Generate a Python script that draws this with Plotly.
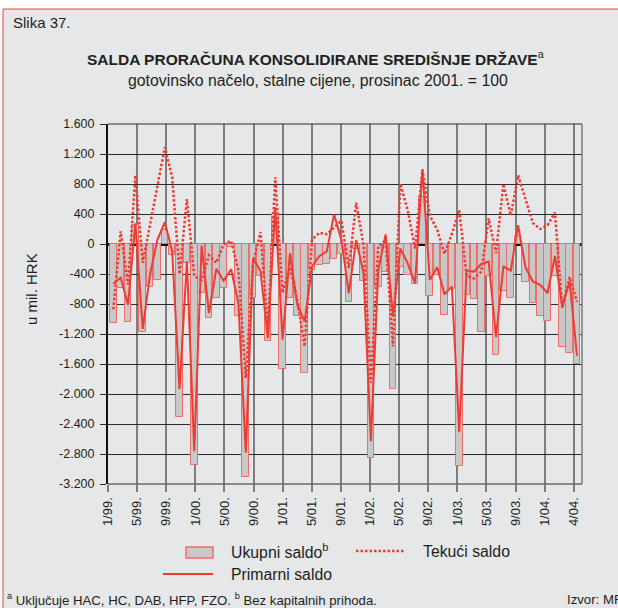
import plotly.graph_objects as go

# Monthly data, 1/99 - 4/04 (mil. HRK, constant prices, Dec 2001 = 100)
months = [f"{m}/{y}" for y in ("99", "00", "01", "02", "03", "04") for m in range(1, 13)][:64]

ukupni_saldo = [
    -1050, -580, -1035, 260, -1175, -577, -485, 190, -153, -2300,
    -250, -2945, -656, -985, -723, -590, -40, -958, -3105, -723,
    -426, -1290, 400, -1668, -723, -962, -1725, -340, -285, -262,
    -200, -138, -770, -60, -495, -2852, -577, -368, -1930, -300,
    -418, -533, 625, -690, -418, -945, -600, -2963, -680, -732,
    -1177, -430, -1477, -625, -723, 110, -500, -789, -965, -1020,
    -420, -1377, -1458, -1601,
]

tekuci_saldo = [
    -870, 170, -540, 915, -250, 280, 800, 1290, 890, -400,
    600, -430, -480, -150, -250, 0, 40, -350, -1787, -250,
    160, -1150, 890, -650, -310, -750, -1366, 60, 150, 130,
    220, 310, -320, 550, -20, -1850, -30, 50, -1366, 807,
    450, -60, 993, 380, 190, -130, 133, 455, -420, -460,
    -370, 340, -120, 800, 380, 915, 600, 280, 200, 250,
    420, -850, -440, -770,
]

primarni_saldo = [
    -530, -450, -810, 275, -1131, -400, 60, 290, -100, -1934,
    -230, -2763, -20, -922, -330, -490, -337, -790, -2780, -190,
    -360, -1255, 490, -1277, -124, -812, -1033, -300, -160, -100,
    395, 50, -656, 53, -390, -2630, -346, 129, -967, -58,
    -257, -523, 993, -479, -310, -670, -568, -2510, -355, -368,
    -266, -235, -1242, -302, -355, 250, -310, -501, -545, -656,
    -160, -834, -500, -1490,
]

x_tick_labels = ["1/99.", "5/99.", "9/99.", "1/00.", "5/00.", "9/00.", "1/01.", "5/01.",
                 "9/01.", "1/02.", "5/02.", "9/02.", "1/03.", "5/03.", "9/03.", "1/04.", "4/04."]
y_tick_values = [1600, 1200, 800, 400, 0, -400, -800, -1200, -1600, -2000, -2400, -2800, -3200]
y_tick_labels = ["1.600", "1.200", "800", "400", "0", "-400", "-800", "-1.200", "-1.600",
                 "-2.000", "-2.400", "-2.800", "-3.200"]

# ---- page geometry ----
W, H = 618, 608
ML, MR, MT, MB = 108, 36, 124, 124
PW, PH = W - ML - MR, H - MT - MB


def px(x):
    return (x - ML) / PW


def py(y):
    return 1 - (y - MT) / PH


FONT = "Liberation Sans, Arial, Helvetica, sans-serif"
INK = "#231f20"
RED = "#ee3b33"
BAR_FILL = "#c8c8c9"
BAR_EDGE = "#ef6f68"
BG = "#e6e7e8"

X_LO, X_HI = -0.22, 64.18
GRID_STEP = 3.955
x_pos = [i + 0.5 for i in range(len(months))]
grid_x = [X_LO + k * GRID_STEP for k in range(len(x_tick_labels))]

fig = go.Figure()

fig.add_trace(go.Bar(
    x=x_pos, y=ukupni_saldo, width=0.9, name="Ukupni saldo",
    marker=dict(color=BAR_FILL, line=dict(color=BAR_EDGE, width=1)),
    customdata=months, hovertemplate="%{customdata}: %{y}<extra>Ukupni saldo</extra>",
))
fig.add_trace(go.Scatter(
    x=x_pos, y=tekuci_saldo, mode="lines", name="Tekući saldo",
    line=dict(color=RED, width=2.5, dash="2.5px,2px"),
    customdata=months, hovertemplate="%{customdata}: %{y}<extra>Tekući saldo</extra>",
))
fig.add_trace(go.Scatter(
    x=x_pos, y=primarni_saldo, mode="lines", name="Primarni saldo",
    line=dict(color=RED, width=2),
    customdata=months, hovertemplate="%{customdata}: %{y}<extra>Primarni saldo</extra>",
))

shapes = [
    # panel with red frame
    dict(type="rect", xref="paper", yref="paper", x0=px(3), y0=py(9), x1=px(700), y1=py(700),
         fillcolor=BG, line=dict(color="#e9473f", width=1), layer="below"),
    # right frame edge of the plot area
    dict(type="line", xref="paper", yref="paper", x0=1, x1=1, y0=0, y1=1,
         line=dict(color="#7d7d7d", width=1.5)),
    # top and bottom border lines of plot area
    dict(type="line", xref="paper", yref="paper", x0=0, x1=1, y0=1, y1=1,
         line=dict(color="#2a2a2a", width=1)),
    dict(type="line", xref="paper", yref="paper", x0=0, x1=1, y0=0, y1=0,
         line=dict(color="#2a2a2a", width=1)),
    # legend keys
    dict(type="rect", xref="paper", yref="paper", x0=px(186), x1=px(213), y0=py(558), y1=py(547),
         fillcolor=BAR_FILL, line=dict(color=BAR_EDGE, width=1.5)),
    dict(type="line", xref="paper", yref="paper", x0=px(356), x1=px(405), y0=py(551), y1=py(551),
         line=dict(color=RED, width=2.5, dash="2.5px,2px")),
    dict(type="line", xref="paper", yref="paper", x0=px(163), x1=px(213), y0=py(574), y1=py(574),
         line=dict(color=RED, width=2)),
]


def note(text, x, y, size, xanchor="left", yanchor="middle", angle=0):
    return dict(text=text, x=px(x), y=py(y), xref="paper", yref="paper", showarrow=False,
                xanchor=xanchor, yanchor=yanchor, textangle=angle,
                font=dict(family=FONT, size=size, color=INK))


annotations = [
    note("Slika 37.", 11, 22, 15),
    note("<b>SALDA PRORAČUNA KONSOLIDIRANE SREDIŠNJE DRŽAVE</b><sup>a</sup>", 316, 58, 15.5,
         xanchor="center"),
    note("gotovinsko načelo, stalne cijene, prosinac 2001. = 100", 318, 80, 15.8, xanchor="center"),
    note("u mil. HRK", 31, 289, 15, xanchor="center", angle=-90),
    note("Ukupni saldo<sup>b</sup>", 229, 551, 15.8),
    note("Tekući saldo", 421, 551, 15.8),
    note("Primarni saldo", 229, 574, 15.8),
    note("<sup>a</sup> Uključuje HAC, HC, DAB, HFP, FZO. <sup>b</sup> Bez kapitalnih prihoda.",
         5, 599, 13.2),
    note("Izvor: MF", 565, 599, 13.2),
]

fig.update_layout(
    width=W, height=H,
    margin=dict(l=ML, r=MR, t=MT, b=MB, pad=0),
    paper_bgcolor="white",
    plot_bgcolor="rgba(0,0,0,0)",
    showlegend=False,
    bargap=0,
    font=dict(family=FONT, color=INK),
    shapes=shapes,
    annotations=annotations,
    xaxis=dict(
        range=[X_LO, X_HI], tickmode="array", tickvals=grid_x, ticktext=x_tick_labels,
        tickangle=-90, ticks="outside", ticklen=7, tickwidth=1.5, tickcolor="#7d7d7d",
        showgrid=True, gridcolor="#7d7d7d", gridwidth=1.5, zeroline=False, showline=False,
        tickfont=dict(family=FONT, size=13, color=INK), fixedrange=True,
    ),
    yaxis=dict(
        range=[-3200, 1600], tickmode="array", tickvals=y_tick_values, ticktext=y_tick_labels,
        ticks="outside", ticklen=6, tickwidth=1, tickcolor="#2a2a2a", ticklabelstandoff=3,
        showgrid=True, gridcolor="#2a2a2a", gridwidth=1,
        zeroline=True, zerolinecolor="#111111", zerolinewidth=2.5,
        showline=True, linecolor="#111111", linewidth=2,
        tickfont=dict(family=FONT, size=12.5, color=INK), fixedrange=True,
    ),
)

fig.write_html("out.html")
